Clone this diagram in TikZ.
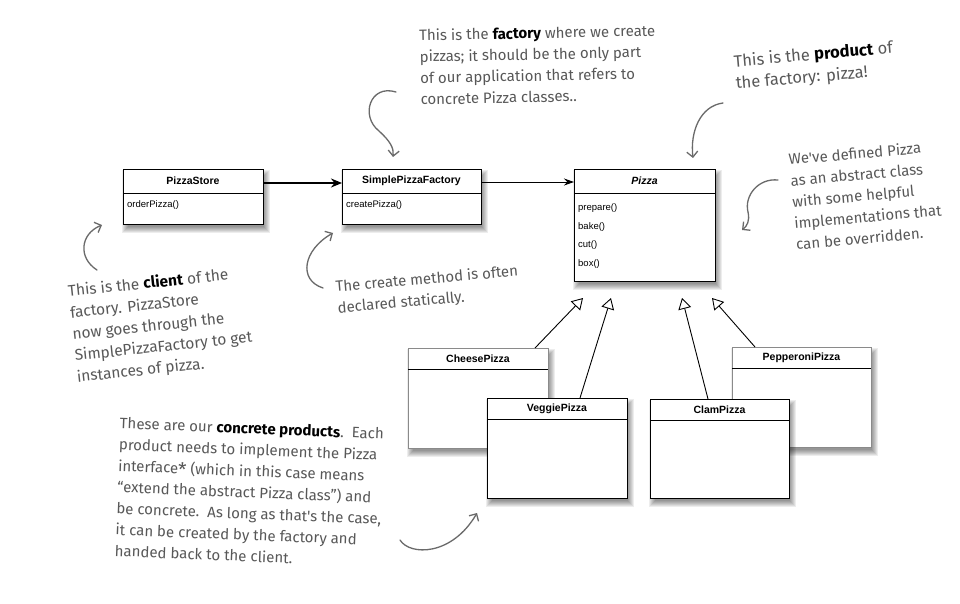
\documentclass[tikz,border=0pt]{standalone}
\usepackage{fontspec}
\setmainfont{Liberation Sans}
\newfontfamily\handfont{Fira Sans}
\usetikzlibrary{arrows.meta,calc}
\definecolor{notegray}{HTML}{585858}
\definecolor{arrowgray}{HTML}{6A6A6A}
\definecolor{boxgray}{HTML}{8A8A8A}
\newcommand\keyw[1]{{\bfseries\color{black}#1}}
\newcommand\bigstar{\raisebox{-2.5pt}{\fontsize{19}{19}\selectfont *}}
\newcommand\boxshade[4]{\foreach \r in {-2,...,4}{\fill[black,opacity=0.07] (#1+3-\r,#2+5-\r) rectangle (#3+3+\r,#4+5+\r);}}
\tikzset{
  umlbox/.style={draw=black, line width=0.8pt, fill=white, inner sep=0pt, outer sep=0pt, anchor=north west},
  umlgray/.style={umlbox, draw=boxgray},
  hdr/.style={inner sep=0pt, outer sep=0pt, anchor=north west, font=\fontsize{10.5}{12}\selectfont\bfseries},
  meth/.style={anchor=west, inner sep=0pt, font=\fontsize{9.5}{11}\selectfont},
  divider/.style={line width=0.7pt},
  note/.style={font=\handfont\fontsize{15}{21.3}\selectfont, text=notegray, align=left, inner sep=0pt, anchor=north west},
  notearrow/.style={draw=arrowgray, line width=1.3pt, line cap=round, -{Straight Barb[length=5.5pt,width=11pt]}},
  inh/.style={line width=0.9pt, -{Triangle[open,length=11pt,width=13pt,fill=white]}},
  assoc/.style={line width=0.9pt, -{Stealth[length=10pt,width=7pt]}},
  assocthick/.style={line width=2.3pt, -{Stealth[length=11pt,width=9pt]}}
}
\begin{document}
\begin{tikzpicture}[x=1pt,y=-1pt]
\useasboundingbox (0,0) rectangle (960,604);
\fill[white] (0,0) rectangle (960,604);

% ---------- top row ----------
\boxshade{123}{169}{263}{224}
\node[umlbox, minimum width=140, minimum height=55] (store) at (123,169) {};
\node[hdr, minimum width=140, minimum height=24] (storeH) at (123,169) {PizzaStore};
\draw[divider] (storeH.south west) -- (storeH.south east);
\node[meth] (storeM) at (127,205) {orderPizza()};

\boxshade{342}{169}{481}{224}
\node[umlbox, minimum width=139, minimum height=55] (fact) at (342,169) {};
\node[hdr, minimum width=139, minimum height=24] (factH) at (342,169) {SimplePizzaFactory};
\draw[divider] (factH.south west) -- (factH.south east);
\node[meth] (factM) at (346,205) {createPizza()};

\boxshade{574}{169}{715}{281}
\node[umlbox, minimum width=141, minimum height=112] (pizza) at (574,169) {};
\node[hdr, minimum width=141, minimum height=24, font=\fontsize{10.5}{12}\selectfont\bfseries\itshape] (pizzaH) at (574,169) {Pizza};
\draw[divider] (pizzaH.south west) -- (pizzaH.south east);
\node[meth] (m1) at (578,208) {prepare()};
\node[meth] (m2) at (578,227) {bake()};
\node[meth] (m3) at (578,245) {cut()};
\node[meth] (m4) at (578,264) {box()};

\draw[assocthick] ([yshift=-2pt]storeH.east) -- ([yshift=-2pt]factH.west);
\draw[assoc] ([yshift=-1pt]factH.east) -- ([yshift=-1pt]pizzaH.west);

% ---------- concrete products ----------
\boxshade{408}{348}{548}{448}
\node[umlgray, minimum width=140, minimum height=100] (cheese) at (408,348) {};
\node[hdr, minimum width=140, minimum height=21] (cheeseH) at (408,348) {CheesePizza};
\draw[divider] (cheeseH.south west) -- (cheeseH.south east);

\boxshade{732}{347}{871}{447}
\node[umlgray, minimum width=139, minimum height=100] (pepp) at (732,347) {};
\node[hdr, minimum width=139, minimum height=21] (peppH) at (732,347) {PepperoniPizza};
\draw[divider] (peppH.south west) -- (peppH.south east);

\boxshade{487}{398}{627}{498}
\node[umlbox, minimum width=140, minimum height=100] (veggie) at (487,398) {};
\node[hdr, minimum width=140, minimum height=21] (veggieH) at (487,398) {VeggiePizza};
\draw[divider] (veggieH.south west) -- (veggieH.south east);

\boxshade{650}{399}{789}{498}
\node[umlbox, minimum width=139, minimum height=99] (clam) at (650,399) {};
\node[hdr, minimum width=139, minimum height=21] (clamH) at (650,399) {ClamPizza};
\draw[divider] (clamH.south west) -- (clamH.south east);

% inheritance arrows
\coordinate (t1) at (583,298);
\coordinate (t2) at (611,298);
\coordinate (t3) at (682,298);
\coordinate (t4) at (712,298);
\draw[inh] ($(cheese.north west)+(127,0)$) -- (t1);
\draw[inh] ($(veggie.north west)+(93,0)$) -- (t2);
\draw[inh] ($(clam.north west)+(58,0)$) -- (t3);
\draw[inh] ($(pepp.north west)+(23,0)$) -- (t4);

% ---------- notes ----------
\node[note, rotate=1.2] (nfact) at (419,29) {This is the \keyw{factory} where we create\\pizzas; it should be the only part\\of our application that refers to\\concrete Pizza classes..};
\coordinate (af0) at (396,92);
\coordinate (af1) at (393,157);
\draw[notearrow] (af0) .. controls (370,84) and (360,116) .. (379,131) .. controls (390,141) and (394,148) .. (af1);

\node[note, rotate=5, font=\handfont\fontsize{16.5}{22}\selectfont] (nprod) at (733,54) {This is the \keyw{product} of\\the factory: pizza!};
\coordinate (ap0) at (723,103);
\coordinate (ap1) at (693,158);
\draw[notearrow] (ap0) .. controls (700,106) and (690,132) .. (ap1);

\node[note, rotate=5] (nabs) at (788,153) {We've defined Pizza\\as an abstract class\\with some helpful\\implementations that\\can be overridden.};
\coordinate (aa0) at (778,180);
\coordinate (aa1) at (742,230);
\draw[notearrow] (aa0) .. controls (758,178) and (744,196) .. (748,212) .. controls (750,221) and (747,226) .. (aa1);

\node[note, rotate=5] (ncreate) at (335,280) {The create method is often\\declared statically.};
\coordinate (ac0) at (323,288);
\coordinate (ac1) at (333,233);
\draw[notearrow] (ac0) .. controls (298,280) and (303,250) .. (ac1);

\node[note, rotate=6, font=\handfont\fontsize{15.5}{21.5}\selectfont] (nclient) at (67,284) {This is the \keyw{client} of the\\factory. PizzaStore\\now goes through the\\SimplePizzaFactory to get\\instances of pizza.};
\coordinate (acl0) at (97,270);
\coordinate (acl1) at (102,225);
\draw[notearrow] (acl0) .. controls (78,258) and (80,234) .. (acl1);

\node[note, rotate=-2.3] (nconc) at (120,417) {These are our \keyw{concrete products}.\ \ Each\\product needs to implement the Pizza\\interface\bigstar\ (which in this case means\\“extend the abstract Pizza class”) and\\be concrete.\ \ As long as that's the case,\\it can be created by the factory and\\handed back to the client.};
\coordinate (ab0) at (400,540);
\coordinate (ab1) at (477,513);
\draw[notearrow] (ab0) .. controls (410,556) and (452,556) .. (ab1);
\end{tikzpicture}
\end{document}
